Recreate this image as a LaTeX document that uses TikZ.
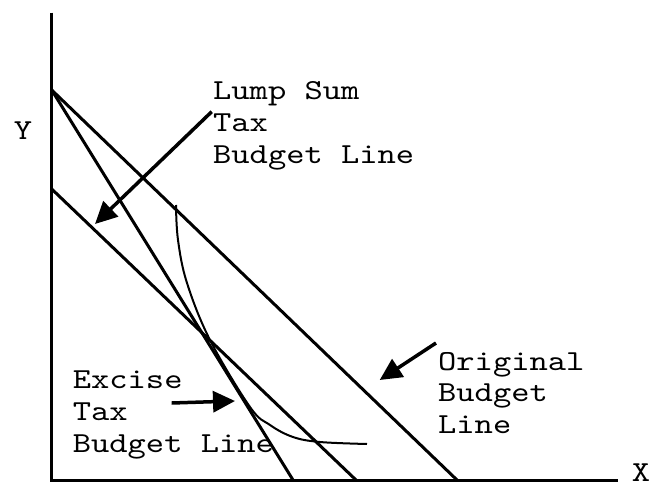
\documentclass[tikz,border=0pt]{standalone}
\usepackage{fontspec}
\setmonofont[FakeStretch=1.2]{lmmono10-regular.otf}
\usetikzlibrary{arrows.meta, positioning}
\tikzset{
  axis/.style={line width=3pt, color=black},
  budget/.style={line width=3pt, color=black},
  indiff/.style={line width=2pt, color=black},
  pointer/.style={-{Triangle[length=22pt, width=21pt]}, line width=3.5pt, color=black},
  label/.style={font=\ttfamily\fontsize{29}{31.7}\selectfont, align=left, inner sep=0pt},
  axlabel/.style={font=\ttfamily\fontsize{29}{31.7}\selectfont, inner sep=0pt}
}
\begin{document}
\begin{tikzpicture}[x=1pt, y=-1pt]
  \useasboundingbox (0,0) rectangle (656,487);
  % axes
  \coordinate (O) at (51.7,480);
  \coordinate (ytop) at (51.7,12.7);
  \coordinate (xend) at (618,480);
  \draw[axis] (ytop) -- (O) -- (xend);
  \node[axlabel] (ylab) at (23,131) {Y};
  \node[axlabel] (xlab) at (641,473) {X};
  % budget lines
  \coordinate (yint) at (51.7,90);
  \coordinate (ylump) at (51.7,189);
  \coordinate (xorig) at (457,480);
  \coordinate (xexcise) at (293,480);
  \coordinate (xlump) at (356,480);
  \draw[budget] (yint) -- (xorig);
  \draw[budget] (yint) -- (xexcise);
  \draw[budget] (ylump) -- (xlump);
  % indifference curve
  \draw[indiff] plot[smooth, tension=0.6] coordinates {(176,205) (178,240) (187,283) (210,340) (250,407) (270,425) (293,437) (320,442) (367,444)};
  % labels
  \node[label, anchor=west] (lump) at (213,126) {Lump Sum\\Tax\\Budget Line};
  \node[label, anchor=west] (excise) at (72.7,415) {Excise\\Tax\\Budget Line};
  \node[label, anchor=west] (orig) at (438,393) {Original\\Budget\\Line};
  % pointers
  \coordinate (lumptail) at (211.7,111.7);
  \coordinate (lumptip) at (95,224);
  \coordinate (excisetail) at (171.7,403);
  \coordinate (excisetip) at (235,401);
  \coordinate (origtail) at (436,343);
  \coordinate (origtip) at (379.7,380);
  \draw[pointer] (lumptail) -- (lumptip);
  \draw[pointer] (excisetail) -- (excisetip);
  \draw[pointer] (origtail) -- (origtip);
\end{tikzpicture}
\end{document}
